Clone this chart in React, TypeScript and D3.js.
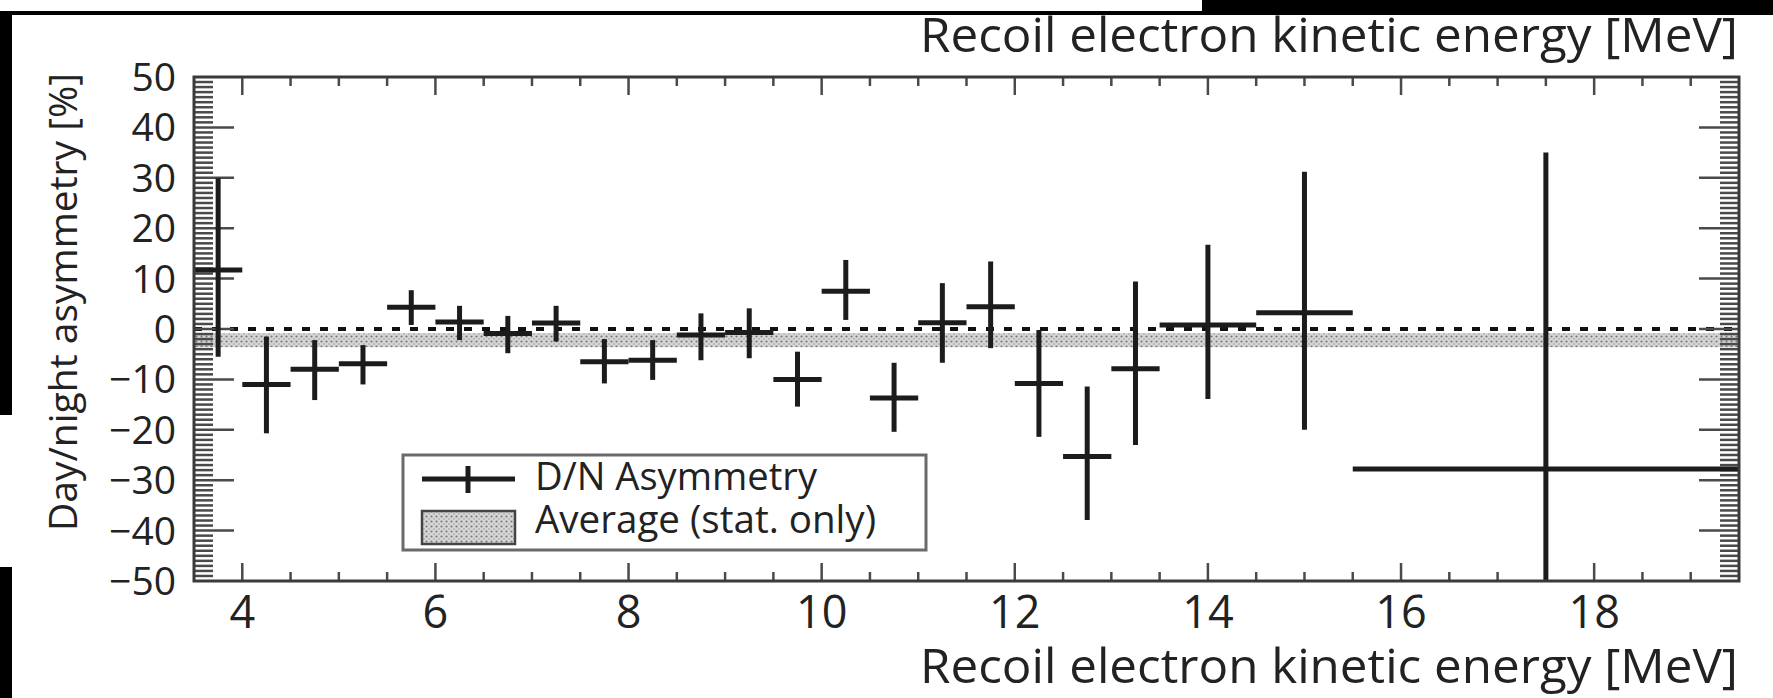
import React from "react";
import * as d3 from "d3";

// ---- data ----
const binLow = [3.5, 4.0, 4.5, 5.0, 5.5, 6.0, 6.5, 7.0, 7.5, 8.0, 8.5, 9.0, 9.5, 10.0, 10.5, 11.0, 11.5, 12.0, 12.5, 13.0, 13.5, 14.5, 15.5];
const binHigh = [4.0, 4.5, 5.0, 5.5, 6.0, 6.5, 7.0, 7.5, 8.0, 8.5, 9.0, 9.5, 10.0, 10.5, 11.0, 11.5, 12.0, 12.5, 13.0, 13.5, 14.5, 15.5, 19.5];
const asymmetry = [11.7, -11.0, -8.0, -6.9, 4.3, 1.4, -0.9, 1.2, -6.5, -6.2, -1.2, -0.7, -10.0, 7.5, -13.7, 1.25, 4.4, -10.8, -25.3, -7.9, 0.8, 3.2, -27.8];
const errUp = [18.2, 9.5, 5.8, 3.7, 3.4, 3.2, 3.5, 3.4, 4.5, 4.0, 4.3, 4.8, 5.5, 6.2, 7.0, 7.85, 9.0, 10.6, 13.9, 17.3, 15.9, 28.0, 62.8];
const errDown = [17.2, 9.7, 6.1, 4.1, 3.5, 3.6, 3.9, 3.7, 4.3, 3.9, 5.0, 5.1, 5.4, 5.7, 6.7, 7.95, 8.2, 10.6, 12.6, 15.1, 14.7, 23.2, 62.8];
const avgValue = -2.2;
const avgErr = 1.4;

const xMajorTicks = [4, 6, 8, 10, 12, 14, 16, 18];
const xTickLabels = ["4", "6", "8", "10", "12", "14", "16", "18"];
const yMajorTicks = [-50, -40, -30, -20, -10, 0, 10, 20, 30, 40, 50];
const yTickLabels = ["\u221250", "\u221240", "\u221230", "\u221220", "\u221210", "0", "10", "20", "30", "40", "50"];

const xTitle = "Recoil electron kinetic energy [MeV]";
const yTitle = "Day/night asymmetry [%]";
const legendLabels = ["D/N Asymmetry", "Average (stat. only)"];

export default function App() {
  const W = 1773, H = 698;
  const L = 194, R = 1739, T = 77, B = 581;
  const x = d3.scaleLinear().domain([3.5, 19.5]).range([L, R]);
  const y = d3.scaleLinear().domain([-50, 50]).range([B, T]);

  const xMinor = d3.range(4, 19.5, 0.5).filter((v) => !xMajorTicks.includes(v));
  const yMinor = d3.range(-49, 50, 1).filter((v) => v % 10 !== 0);
  const yMajorInner = yMajorTicks.filter((v) => v > -50 && v < 50);

  const font = "'Open Sans', 'Noto Sans', sans-serif";
  const txt = "#222";
  const tickCol = "#4a4a4a";
  const markCol = "#1c1c1c";

  return (
    <svg width={W} height={H} style={{ position: "absolute", left: 0, top: 0, background: "#fff" }} fontFamily={font}>
      <defs>
        <pattern id="dots" width="5" height="5" patternUnits="userSpaceOnUse">
          <rect width="5" height="5" fill="#d6d6d6" />
          <circle cx="1.5" cy="1.5" r="1.1" fill="#7a7a7a" />
          <circle cx="4" cy="4" r="0.8" fill="#999999" />
        </pattern>
        <clipPath id="plotClip">
          <rect x={L} y={T} width={R - L} height={B - T} />
        </clipPath>
      </defs>

      {/* scan artefacts (black borders) */}
      <rect x={0} y={11} width={1202} height={4} fill="#000" />
      <rect x={1202} y={0} width={W - 1202} height={15} fill="#000" />
      <rect x={0} y={11} width={12} height={404} fill="#000" />
      <rect x={0} y={567} width={12} height={H - 567} fill="#000" />

      {/* average band */}
      <rect x={L} y={y(avgValue + avgErr)} width={R - L} height={y(avgValue - avgErr) - y(avgValue + avgErr)} fill="url(#dots)" />
      {/* zero line */}
      <line x1={L} x2={R} y1={y(0)} y2={y(0)} stroke="#111" strokeWidth={4} strokeDasharray="8 10" />

      {/* ticks */}
      <g stroke={tickCol} strokeWidth={2.5}>
        {xMajorTicks.map((v) => (
          <g key={"xm" + v}>
            <line x1={x(v)} x2={x(v)} y1={B} y2={B - 18} />
            <line x1={x(v)} x2={x(v)} y1={T} y2={T + 18} />
          </g>
        ))}
        {xMinor.map((v) => (
          <g key={"xn" + v}>
            <line x1={x(v)} x2={x(v)} y1={B} y2={B - 9} />
            <line x1={x(v)} x2={x(v)} y1={T} y2={T + 9} />
          </g>
        ))}
        {yMajorInner.map((v) => (
          <g key={"ym" + v}>
            <line x1={L} x2={L + 40} y1={y(v)} y2={y(v)} />
            <line x1={R} x2={R - 40} y1={y(v)} y2={y(v)} />
          </g>
        ))}
        {yMinor.map((v) => (
          <g key={"yn" + v}>
            <line x1={L} x2={L + 19} y1={y(v)} y2={y(v)} />
            <line x1={R} x2={R - 19} y1={y(v)} y2={y(v)} />
          </g>
        ))}
      </g>

      {/* data crosses */}
      <g clipPath="url(#plotClip)" stroke={markCol} strokeWidth={5}>
        {asymmetry.map((v, i) => {
          const cx = x((binLow[i] + binHigh[i]) / 2);
          return (
            <g key={"p" + i}>
              <line x1={x(binLow[i])} x2={x(binHigh[i])} y1={y(v)} y2={y(v)} />
              <line x1={cx} x2={cx} y1={y(v + errUp[i])} y2={y(v - errDown[i])} />
            </g>
          );
        })}
      </g>

      {/* frame */}
      <rect x={L} y={T} width={R - L} height={B - T} fill="none" stroke="#3a3a3a" strokeWidth={3} />

      {/* tick labels */}
      <g fill={txt} fontSize={45} textAnchor="middle">
        {xMajorTicks.map((v, i) => (
          <text key={"xl" + v} x={x(v)} y={628}>{xTickLabels[i]}</text>
        ))}
      </g>
      <g fill={txt} fontSize={39} textAnchor="end">
        {yMajorTicks.map((v, i) => (
          <text key={"yl" + v} x={176} y={y(v) + 14}>{yTickLabels[i]}</text>
        ))}
      </g>

      {/* axis titles */}
      <text x={920} y={52} fontSize={48} fill={txt} textLength={818} lengthAdjust="spacingAndGlyphs">{xTitle}</text>
      <text x={920} y={683} fontSize={47} fill={txt} textLength={818} lengthAdjust="spacingAndGlyphs">{xTitle}</text>
      <text transform={`translate(77, 531) rotate(-90)`} fontSize={38} fill={txt} textLength={458} lengthAdjust="spacingAndGlyphs">{yTitle}</text>

      {/* legend */}
      <rect x={403} y={455} width={523} height={95} fill="#fff" stroke="#6a6a6a" strokeWidth={3} />
      <line x1={422} x2={515} y1={479} y2={479} stroke={markCol} strokeWidth={5} />
      <line x1={468} x2={468} y1={466} y2={493} stroke={markCol} strokeWidth={5} />
      <rect x={422} y={511} width={93} height={33} fill="url(#dots)" stroke="#444" strokeWidth={2.5} />
      <text x={535} y={490} fontSize={38} fill={txt} textLength={282} lengthAdjust="spacingAndGlyphs">{legendLabels[0]}</text>
      <text x={535} y={533} fontSize={38} fill={txt} textLength={341} lengthAdjust="spacingAndGlyphs">{legendLabels[1]}</text>
    </svg>
  );
}
